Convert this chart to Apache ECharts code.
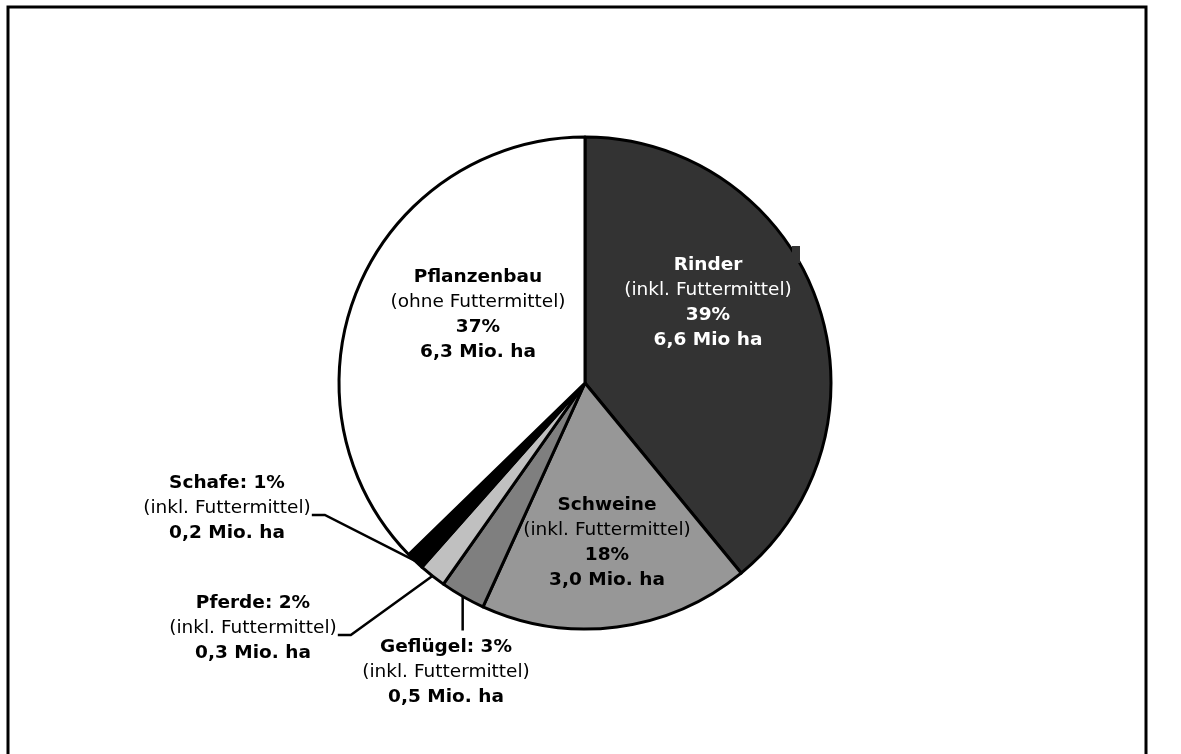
<!DOCTYPE html>
<html>
<head>
<meta charset="utf-8">
<title>Flächenbedarf</title>
<script src="https://cdn.jsdelivr.net/npm/echarts@6/dist/echarts.min.js"></script>
<style>
  html, body { margin: 0; padding: 0; background: #fff; }
  #myChart { width: 1181px; height: 754px; }
</style>
</head>
<body>
<div id="myChart"></div>
<script>
  // Daten (Fläche in Mio. ha)
  let categories = ['Rinder', 'Schweine', 'Geflügel', 'Pferde', 'Schafe', 'Pflanzenbau'];
  let areaMioHa = [6.6, 3.0, 0.5, 0.3, 0.2, 6.3];
  let percentLabels = ['39%', '18%', '3%', '2%', '1%', '37%'];
  let notes = ['(inkl. Futtermittel)', '(inkl. Futtermittel)', '(inkl. Futtermittel)',
               '(inkl. Futtermittel)', '(inkl. Futtermittel)', '(ohne Futtermittel)'];
  let areaLabels = ['6,6 Mio ha', '3,0 Mio. ha', '0,5 Mio. ha', '0,3 Mio. ha', '0,2 Mio. ha', '6,3 Mio. ha'];

  // Darstellung
  let colors = ['#333333', '#979797', '#7f7f7f', '#c0c0c0', '#000000', '#ffffff'];
  let textColors = ['#ffffff', '#000', '#000', '#000', '#000', '#000'];
  let outside = [false, false, true, true, true, false];
  // Mittelpunkt der Beschriftungen
  let labelPos = [[708, 303], [607, 543], [446, 672], [253, 628], [227, 508], [478, 315]];

  let myChart = echarts.init(document.getElementById('myChart'));

  let seriesData = categories.map(function (name, i) {
    let inline = outside[i];
    return {
      name: name,
      value: areaMioHa[i],
      itemStyle: { color: colors[i] },
      label: {
        position: inline ? 'outside' : 'inside',
        formatter: inline
          ? '{b|' + name + ': ' + percentLabels[i] + '}\n{n|' + notes[i] + '}\n{b|' + areaLabels[i] + '}'
          : '{b|' + name + '}\n{n|' + notes[i] + '}\n{b|' + percentLabels[i] + '}\n{b|' + areaLabels[i] + '}',
        rich: {
          b: { fontFamily: 'DejaVu Sans', fontSize: 18.5, fontWeight: 'bold', color: textColors[i], lineHeight: 25, align: 'center' },
          n: { fontFamily: 'DejaVu Sans', fontSize: 18.5, color: textColors[i], lineHeight: 25, align: 'center' }
        }
      },
      labelLine: { show: inline }
    };
  });

  let option = {
    animation: false,
    backgroundColor: '#fff',
    graphic: [
      {
        type: 'rect',
        shape: { x: 8, y: 7, width: 1138, height: 760 },
        style: { fill: 'none', stroke: '#000', lineWidth: 3 },
        silent: true
      },
      {
        // kleiner Rest im Original oben rechts am Kreis
        type: 'rect',
        z: 100,
        shape: { x: 792, y: 246, width: 8, height: 17 },
        style: { fill: '#333333' },
        silent: true
      }
    ],
    series: [
      {
        type: 'pie',
        center: [585, 383],
        radius: [0, 246],
        startAngle: 90,
        clockwise: true,
        avoidLabelOverlap: false,
        itemStyle: { borderColor: '#000', borderWidth: 3 },
        emphasis: { disabled: true },
        label: { show: true },
        labelLine: {
          show: true,
          lineStyle: { color: '#000', width: 2.5 }
        },
        labelLayout: function (params) {
          let i = params.dataIndex;
          let pos = labelPos[i];
          let res = { x: pos[0], y: pos[1], align: 'center', verticalAlign: 'middle' };
          if (outside[i] && params.labelLinePoints) {
            let start = params.labelLinePoints[0];
            let w = params.labelRect.width;
            let h = params.labelRect.height;
            if (categories[i] === 'Geflügel') {
              let endY = pos[1] - h / 2 - 7;
              res.labelLinePoints = [start, [start[0], endY], [start[0], endY]];
            } else {
              let right = pos[0] + w / 2;
              let y = pos[1] + 7;
              res.labelLinePoints = [start, [right + 14, y], [right + 1, y]];
            }
          }
          return res;
        },
        data: seriesData
      }
    ]
  };
  myChart.setOption(option);
</script>
</body>
</html>
